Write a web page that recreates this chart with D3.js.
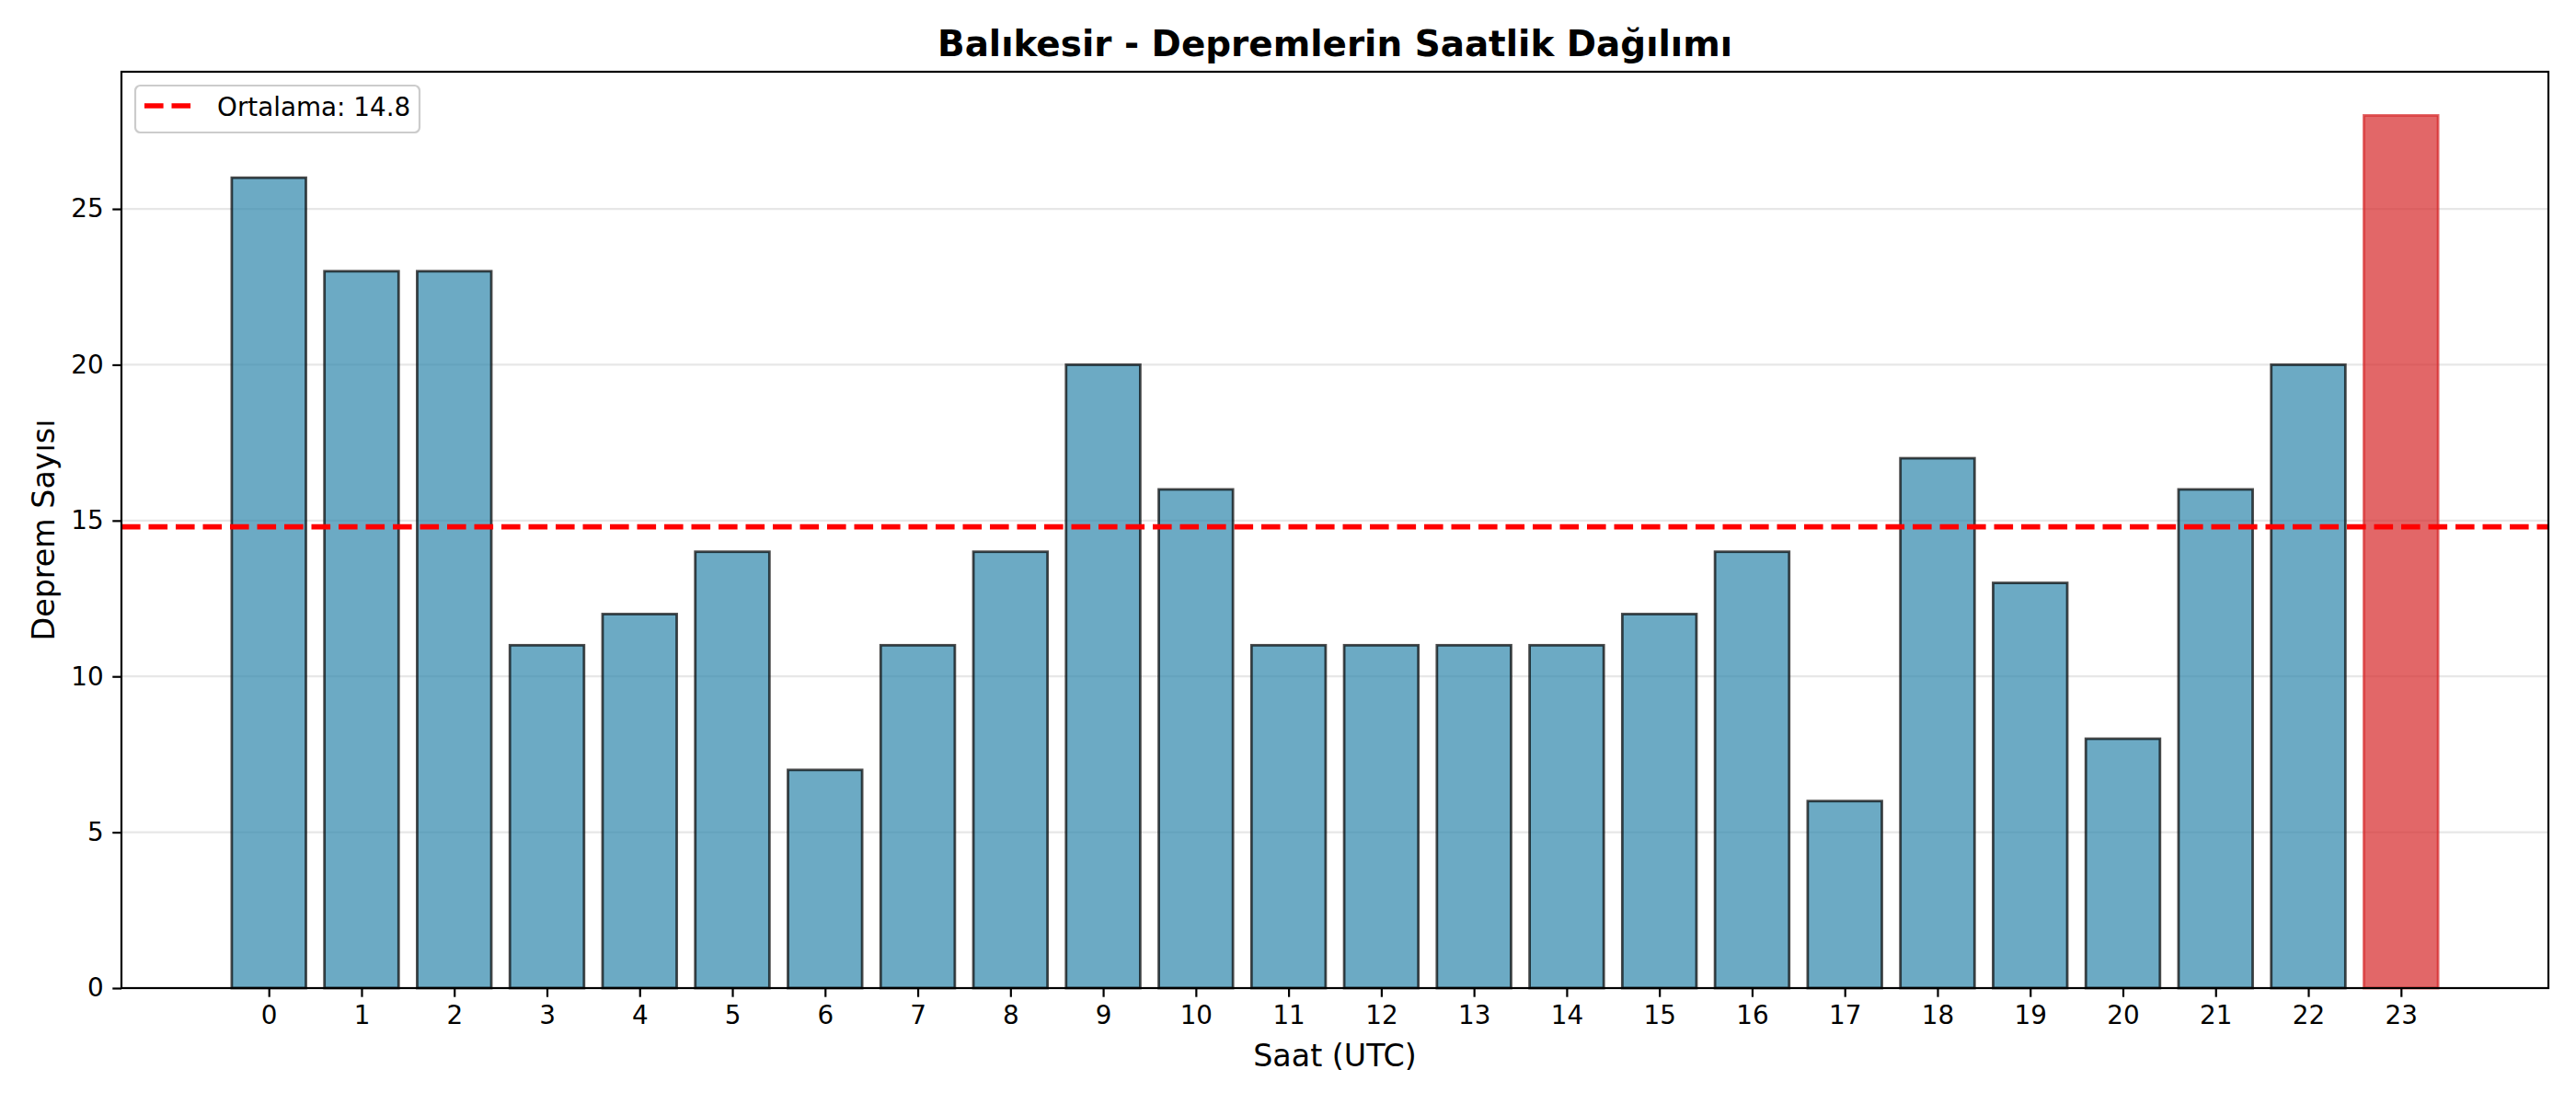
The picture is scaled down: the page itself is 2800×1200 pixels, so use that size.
<!DOCTYPE html>
<html>
<head>
<meta charset="utf-8">
<script src="https://cdn.jsdelivr.net/npm/d3@7"></script>
<style>
  html, body { margin: 0; padding: 0; background: #fff; }
  svg { display: block; font-family: "DejaVu Sans", sans-serif; }
</style>
</head>
<body>
<svg id="chart" width="2800" height="1200"></svg>
<script>
// ---- data ----
const hours = [0,1,2,3,4,5,6,7,8,9,10,11,12,13,14,15,16,17,18,19,20,21,22,23];
const counts = [26,23,23,11,12,14,7,11,14,20,16,11,11,11,11,12,14,6,17,13,8,16,20,28];
const yTicks = [0,5,10,15,20,25];
const meanValue = 14.8;
const titleText = "Balıkesir - Depremlerin Saatlik Dağılımı";
const xLabelText = "Saat (UTC)";
const yLabelText = "Deprem Sayısı";
const legendText = "Ortalama: 14.8";

// ---- layout ----
const W = 2800, H = 1200;
const L = 132, R = 2770, T = 78, B = 1074;
const barW = 0.8;
const maxVal = d3.max(counts);
const peakIdx = counts.indexOf(maxVal);

const svg = d3.select("#chart");
svg.append("rect").attr("width", W).attr("height", H).attr("fill", "#fff");

const xMinD = -barW/2, xMaxD = hours.length - 1 + barW/2;
const xPad = (xMaxD - xMinD) * 0.05;
const x = d3.scaleLinear().domain([xMinD - xPad, xMaxD + xPad]).range([L, R]);
const y = d3.scaleLinear().domain([0, maxVal * 1.05]).range([B, T]);

// grid
svg.append("g").selectAll("line").data(yTicks).join("line")
  .attr("x1", L).attr("x2", R)
  .attr("y1", d => y(d)).attr("y2", d => y(d))
  .attr("stroke", "#b0b0b0").attr("stroke-opacity", 0.3).attr("stroke-width", 2.2);

// bars
const bars = svg.append("g");
hours.forEach((h, i) => {
  const v = counts[i];
  const isPeak = i === peakIdx;
  const x0 = x(h - barW/2), x1 = x(h + barW/2);
  const g = bars.append("g");
  g.append("rect")
    .attr("x", x0).attr("y", y(v))
    .attr("width", x1 - x0).attr("height", y(0) - y(v))
    .attr("fill", isPeak ? "#d62728" : "#2E86AB")
    .attr("fill-opacity", 0.7);
  g.append("rect")
    .attr("x", x0).attr("y", y(v))
    .attr("width", x1 - x0).attr("height", y(0) - y(v))
    .attr("fill", "none")
    .attr("stroke", isPeak ? "#d62728" : "#000")
    .attr("stroke-opacity", 0.7)
    .attr("stroke-width", 2.8);
});

// mean line
svg.append("line")
  .attr("x1", L).attr("x2", R)
  .attr("y1", y(meanValue)).attr("y2", y(meanValue))
  .attr("stroke", "#ff0000").attr("stroke-width", 5.6)
  .attr("stroke-dasharray", "20.6,8.9");

// axes
const xAxis = d3.axisBottom(x).tickValues(hours).tickFormat(d3.format("d"))
  .tickSize(9.7).tickPadding(9.7).tickSizeOuter(0);
const gx = svg.append("g").attr("transform", `translate(0,${B})`).call(xAxis);
gx.select(".domain").remove();
gx.selectAll(".tick line").attr("stroke", "#000").attr("stroke-width", 2.2);
gx.selectAll(".tick text").attr("font-size", 27.8).attr("fill", "#000")
  .attr("font-family", "DejaVu Sans");

const yAxis = d3.axisLeft(y).tickValues(yTicks).tickFormat(d3.format("d"))
  .tickSize(9.7).tickPadding(9.7).tickSizeOuter(0);
const gy = svg.append("g").attr("transform", `translate(${L},0)`).call(yAxis);
gy.select(".domain").remove();
gy.selectAll(".tick line").attr("stroke", "#000").attr("stroke-width", 2.2);
gy.selectAll(".tick text").attr("font-size", 27.8).attr("fill", "#000")
  .attr("font-family", "DejaVu Sans");

// frame (spines)
svg.append("rect").attr("x", L).attr("y", T).attr("width", R - L).attr("height", B - T)
  .attr("fill", "none").attr("stroke", "#000").attr("stroke-width", 2.2);

// title
svg.append("text").attr("x", (L + R) / 2).attr("y", 61)
  .attr("text-anchor", "middle").attr("font-size", 38.9).attr("font-weight", "bold")
  .attr("fill", "#000").text(titleText);

// axis labels
svg.append("text").attr("x", (L + R) / 2).attr("y", 1159)
  .attr("text-anchor", "middle").attr("font-size", 33.3).attr("fill", "#000")
  .text(xLabelText);
svg.append("text")
  .attr("transform", `translate(59,${(T + B) / 2}) rotate(-90)`)
  .attr("text-anchor", "middle").attr("font-size", 33.3).attr("fill", "#000")
  .text(yLabelText);

// legend
const lg = svg.append("g");
lg.append("rect").attr("x", 147).attr("y", 93).attr("width", 309).attr("height", 51)
  .attr("rx", 5.5).attr("ry", 5.5)
  .attr("fill", "#fff").attr("fill-opacity", 0.8)
  .attr("stroke", "#cccccc").attr("stroke-width", 2.2);
lg.append("line").attr("x1", 157).attr("x2", 213).attr("y1", 115).attr("y2", 115)
  .attr("stroke", "#ff0000").attr("stroke-width", 5.6)
  .attr("stroke-dasharray", "20.6,8.9");
lg.append("text").attr("x", 236).attr("y", 126)
  .attr("font-size", 27.8).attr("fill", "#000").text(legendText);
</script>
</body>
</html>
